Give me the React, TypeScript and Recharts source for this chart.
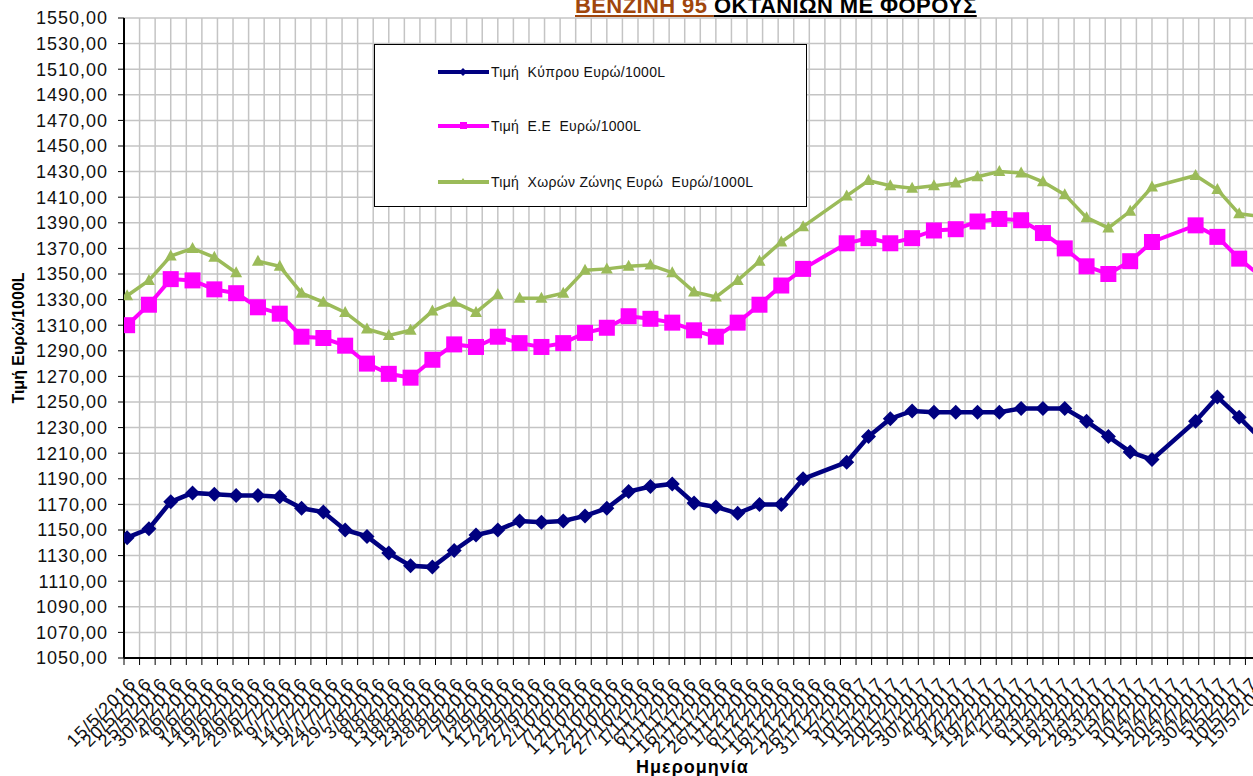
import React from "react";
import { CartesianGrid, Legend, Line, LineChart, XAxis, YAxis } from "recharts";

// weekly price dates (empty rows mark where the euro-zone series breaks)
const dates = [
  "16/5/2016", "23/5/2016", "30/5/2016", "6/6/2016", "13/6/2016", "20/6/2016", "24/6/2016",
  "27/6/2016", "4/7/2016", "11/7/2016", "18/7/2016", "25/7/2016", "1/8/2016", "8/8/2016",
  "15/8/2016", "22/8/2016", "29/8/2016", "5/9/2016", "12/9/2016", "15/9/2016", "19/9/2016",
  "26/9/2016", "3/10/2016", "10/10/2016", "17/10/2016", "24/10/2016", "31/10/2016",
  "7/11/2016", "14/11/2016", "21/11/2016", "28/11/2016", "5/12/2016", "12/12/2016",
  "19/12/2016", "2/1/2017", "9/1/2017", "16/1/2017", "23/1/2017", "30/1/2017", "6/2/2017",
  "13/2/2017", "20/2/2017", "27/2/2017", "6/3/2017", "13/3/2017", "20/3/2017", "27/3/2017",
  "3/4/2017", "10/4/2017", "24/4/2017", "1/5/2017", "8/5/2017", "15/5/2017",
];

const cyprusPrice = [
  1144, 1151, 1172, 1179, 1178, 1177, null,
  1177, 1176, 1167, 1164, 1150, 1145, 1132,
  1122, 1121, 1134, 1146, 1150, null, 1157,
  1156, 1157, 1161, 1167, 1180, 1184,
  1186, 1171, 1168, 1163, 1170, 1170,
  1190, 1203, 1223, 1237, 1243, 1242, 1242,
  1242, 1242, 1245, 1245, 1245, 1235, 1223,
  1211, 1205, 1235, 1254, 1238, 1221,
];

const euPrice = [
  1310, 1326, 1346, 1345, 1338, 1335, null,
  1324, 1319, 1301, 1300, 1294, 1280, 1272,
  1269, 1283, 1295, 1293, 1301, null, 1296,
  1293, 1296, 1304, 1308, 1317, 1315,
  1312, 1306, 1301, 1312, 1326, 1341,
  1354, 1374, 1378, 1374, 1378, 1384, 1385,
  1391, 1393, 1392, 1382, 1370, 1356, 1350,
  1360, 1375, 1388, 1379, 1362, 1348,
];

const euroZonePrice = [
  1333, 1345, 1364, 1370, 1363, 1351, null,
  1360, 1356, 1335, 1328, 1320, 1307, 1302,
  1306, 1321, 1328, 1320, 1334, null, 1331,
  1331, 1335, 1353, 1354, 1356, 1357,
  1351, 1336, 1332, 1345, 1360, 1375,
  1387, 1411, 1423, 1419, 1417, 1419, 1421,
  1426, 1430, 1429, 1422, 1412, 1394, 1386,
  1399, 1418, 1427, 1416, 1397, 1395,
];

const seriesNames = [
  "Τιμή  Κύπρου Ευρώ/1000L",
  "Τιμή  Ε.Ε  Ευρώ/1000L",
  "Τιμή  Χωρών Ζώνης Ευρώ  Ευρώ/1000L",
];

const yTicks = [
  1050, 1070, 1090, 1110, 1130, 1150, 1170, 1190, 1210, 1230, 1250, 1270, 1290,
  1310, 1330, 1350, 1370, 1390, 1410, 1430, 1450, 1470, 1490, 1510, 1530, 1550,
];

const FONT = "'Liberation Sans', Arial, sans-serif";
const NAVY = "#000080";
const PINK = "#ff00ff";
const OLIVE = "#9bbb59";

const DAY = 86400000;
const ORIGIN = Date.UTC(2016, 4, 15);

const toDay = (s: string) => {
  const [d, m, y] = s.split("/").map(Number);
  return Math.round((Date.UTC(y, m - 1, d) - ORIGIN) / DAY);
};

const dayLabel = (n: number) => {
  const t = new Date(ORIGIN + n * DAY);
  return `${t.getUTCDate()}/${t.getUTCMonth() + 1}/${t.getUTCFullYear()}`;
};

const lastDay = toDay("15/5/2017");
// date axis: a tick every 5 days
const xTicks = Array.from({ length: Math.floor(lastDay / 5) + 1 }, (_, i) => i * 5);

const data = dates.map((d, i) => ({
  day: toDay(d),
  cyprus: cyprusPrice[i],
  eu: euPrice[i],
  zone: euroZonePrice[i],
}));

const diamond = (p: any) => {
  if (p.cx == null || p.cy == null) return <g key={`c${p.index}`} />;
  const r = 7.5;
  return (
    <path
      key={`c${p.index}`}
      d={`M${p.cx},${p.cy - r}L${p.cx + r},${p.cy}L${p.cx},${p.cy + r}L${p.cx - r},${p.cy}Z`}
      fill={NAVY}
    />
  );
};

const square = (p: any) => {
  if (p.cx == null || p.cy == null) return <g key={`e${p.index}`} />;
  return <rect key={`e${p.index}`} x={p.cx - 8} y={p.cy - 8} width={16} height={16} fill={PINK} />;
};

const triangle = (p: any) => {
  if (p.cx == null || p.cy == null) return <g key={`z${p.index}`} />;
  return (
    <path
      key={`z${p.index}`}
      d={`M${p.cx},${p.cy - 6.5}L${p.cx + 6},${p.cy + 4.5}L${p.cx - 6},${p.cy + 4.5}Z`}
      fill={OLIVE}
    />
  );
};

const XTick = ({ x = 0, y = 0, payload }: any) => {
  const ax = x + 13;
  const ay = y + 20;
  return (
    <text
      x={ax}
      y={ay}
      transform={`rotate(-45 ${ax} ${ay})`}
      textAnchor="end"
      fontSize={18}
      fontFamily={FONT}
      letterSpacing={1}
      fill="#111"
    >
      {dayLabel(payload.value)}
    </text>
  );
};

const legendRows = [
  { name: seriesNames[0], color: NAVY, top: 20 },
  { name: seriesNames[1], color: PINK, top: 74 },
  { name: seriesNames[2], color: OLIVE, top: 130 },
];

const LegendBox = () => (
  <div
    style={{
      width: 431,
      height: 161,
      border: "1px solid #000",
      background: "#fff",
      position: "relative",
      fontFamily: FONT,
      fontSize: 14,
      letterSpacing: 0.3,
      color: "#111",
    }}
  >
    {legendRows.map((r, i) => (
      <div
        key={i}
        style={{ position: "absolute", left: 62, top: r.top, height: 14, display: "flex", alignItems: "center", whiteSpace: "pre" }}
      >
        <svg width={54} height={14} style={{ display: "block" }}>
          <line x1={1} y1={7} x2={52} y2={7} stroke={r.color} strokeWidth={4} />
          {i === 0 && <path d="M26,3L30,7L26,11L22,7Z" fill={r.color} />}
          {i === 1 && <rect x={23} y={3} width={7} height={7} fill={r.color} />}
          {i === 2 && <path d="M26,3L30,9L22,9Z" fill={r.color} />}
        </svg>
        <span>{r.name}</span>
      </div>
    ))}
  </div>
);

export default function App() {
  return (
    <div style={{ position: "absolute", left: 0, top: 0, width: 1253, height: 776, overflow: "hidden", background: "#fff" }}>
      <div
        style={{
          position: "absolute",
          left: 575,
          top: -5,
          zIndex: 2,
          fontFamily: FONT,
          fontWeight: "bold",
          fontSize: 22,
          lineHeight: "22px",
          letterSpacing: 0.4,
          whiteSpace: "pre",
        }}
      >
        <span style={{ color: "#a0460c", textDecoration: "underline" }}>ΒΕΝΖΙΝΗ 95 </span>
        <span style={{ color: "#000", textDecoration: "underline" }}>ΟΚΤΑΝΙΩΝ ΜΕ ΦΟΡΟΥΣ</span>
      </div>
      <LineChart width={1300} height={776} data={data} margin={{ top: 18, right: 39, left: 0, bottom: 0 }}>
        <CartesianGrid stroke="#c4c4c4" strokeWidth={1.5} />
        <XAxis
          type="number"
          dataKey="day"
          domain={[0, lastDay]}
          ticks={xTicks}
          interval={0}
          allowDataOverflow
          height={118}
          tickSize={7}
          tickMargin={0}
          axisLine={{ stroke: "#000", strokeWidth: 2 }}
          tickLine={{ stroke: "#000" }}
          tick={<XTick />}
          label={{
            value: "Ημερομηνία",
            position: "insideBottom",
            offset: 3,
            style: { fontFamily: FONT, fontWeight: "bold", fontSize: 18, fill: "#000", letterSpacing: 1 },
          }}
        />
        <YAxis
          type="number"
          domain={[1050, 1550]}
          ticks={yTicks}
          interval={0}
          width={124}
          tickSize={6}
          tickMargin={10}
          axisLine={{ stroke: "#000", strokeWidth: 2 }}
          tickLine={{ stroke: "#000" }}
          tick={{ fill: "#111", fontSize: 18, fontFamily: FONT, letterSpacing: 1 }}
          tickFormatter={(v: number) => v.toFixed(2).replace(".", ",")}
          label={{
            value: "Τιμή Ευρώ/1000L",
            angle: -90,
            position: "center",
            dx: -44,
            style: { fontFamily: FONT, fontWeight: "bold", fontSize: 16, fill: "#000" },
          }}
        />
        <Legend
          layout="vertical"
          align="center"
          verticalAlign="middle"
          wrapperStyle={{ left: 374, top: 44, width: 433, height: 163 }}
          content={() => <LegendBox />}
        />
        <Line
          dataKey="zone"
          name={seriesNames[2]}
          stroke={OLIVE}
          strokeWidth={3.5}
          dot={triangle}
          activeDot={false}
          isAnimationActive={false}
        />
        <Line
          dataKey="eu"
          name={seriesNames[1]}
          stroke={PINK}
          strokeWidth={4}
          dot={square}
          activeDot={false}
          connectNulls
          isAnimationActive={false}
        />
        <Line
          dataKey="cyprus"
          name={seriesNames[0]}
          stroke={NAVY}
          strokeWidth={4.5}
          dot={diamond}
          activeDot={false}
          connectNulls
          isAnimationActive={false}
        />
      </LineChart>
    </div>
  );
}
